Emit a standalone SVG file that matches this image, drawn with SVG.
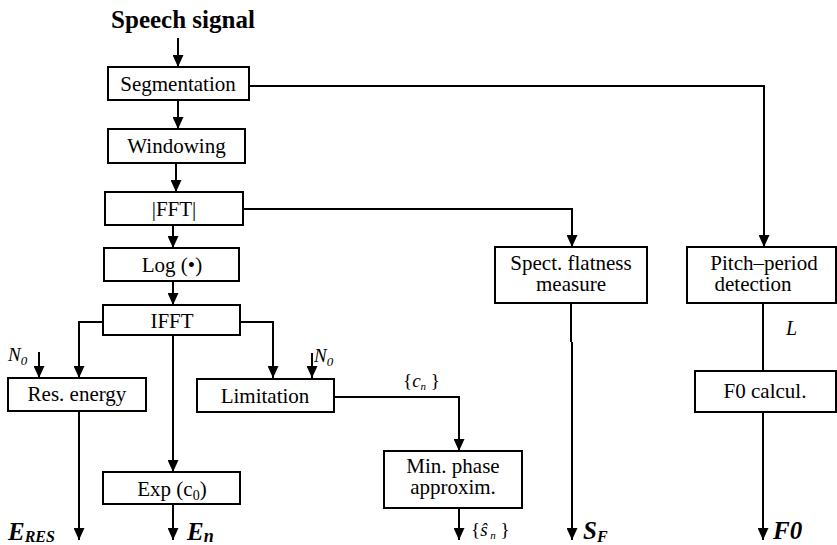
<svg xmlns="http://www.w3.org/2000/svg" width="837" height="545" viewBox="0 0 837 545" font-family="'Liberation Serif', 'Times New Roman', 'DejaVu Serif', serif">
  <style>
    .box { fill: #fff; stroke: #000; stroke-width: 2; }
    .lbl { font-size: 21px; fill: #000; text-anchor: middle; }
    .it { font-style: italic; fill: #000; }
    .out { font-style: italic; font-weight: bold; fill: #000; }
    .wire { fill: none; stroke: #000; stroke-width: 2; }
    .arr { marker-end: url(#head); }
  </style>
  <defs>
    <marker id="head" markerUnits="userSpaceOnUse" markerWidth="12" markerHeight="11" refX="12" refY="5.5" orient="auto" viewBox="0 0 12 11">
      <path d="M0,0 L12,5.5 L0,11 z" fill="#000"/>
    </marker>
  </defs>

  <text x="183" y="28" font-size="25" font-weight="bold" text-anchor="middle">Speech signal</text>

  <g id="connectors">
    <path class="wire arr" d="M178,38 V67"/>
    <path class="wire arr" d="M178,100 V129"/>
    <path class="wire arr" d="M176,163 V192"/>
    <path class="wire arr" d="M173,225 V248"/>
    <path class="wire arr" d="M173,281 V305"/>
    <path class="wire arr" d="M249,86 H764 V247"/>
    <path class="wire arr" d="M243,209 H572 V247"/>
    <path class="wire arr" d="M103,322 H79 V378"/>
    <path class="wire arr" d="M39,352 V378"/>
    <path class="wire arr" d="M173,335 V472"/>
    <path class="wire arr" d="M240,322 H273 V378"/>
    <path class="wire arr" d="M312,353 V378"/>
    <path class="wire arr" d="M334,397 H459 V451"/>
    <path class="wire arr" d="M79,411 V540"/>
    <path class="wire arr" d="M173,504 V540"/>
    <path class="wire arr" d="M459,508 V540"/>
    <path class="wire" stroke-width="1.3" d="M571,303 V342"/>
    <path class="wire arr" d="M572,342 V540"/>
    <path class="wire" d="M763,303 V371"/>
    <path class="wire arr" d="M763,412 V540"/>
  </g>

  <g id="segmentation">
    <rect class="box" x="108" y="67" width="141" height="33"/>
    <text class="lbl" x="178" y="91">Segmentation</text>
  </g>
  <g id="windowing">
    <rect class="box" x="108" y="129" width="137" height="34"/>
    <text class="lbl" x="176.5" y="153">Windowing</text>
  </g>
  <g id="fft">
    <rect class="box" x="105" y="192" width="138" height="33"/>
    <text class="lbl" x="174" y="216">|FFT|</text>
  </g>
  <g id="log">
    <rect class="box" x="104" y="248" width="135" height="33"/>
    <text class="lbl" x="172" y="272">Log (•)</text>
  </g>
  <g id="ifft">
    <rect class="box" x="103" y="305" width="137" height="30"/>
    <text class="lbl" x="172" y="328">IFFT</text>
  </g>
  <g id="res-energy">
    <rect class="box" x="8" y="378" width="138" height="33"/>
    <text class="lbl" x="77" y="401">Res. energy</text>
  </g>
  <g id="limitation">
    <rect class="box" x="197" y="379" width="137" height="33"/>
    <text class="lbl" x="265" y="403">Limitation</text>
  </g>
  <g id="exp">
    <rect class="box" x="103" y="472" width="137" height="32"/>
    <text class="lbl" x="172" y="496">Exp (c<tspan font-size="14" dy="4">0</tspan><tspan dy="-4">)</tspan></text>
  </g>
  <g id="min-phase">
    <rect class="box" x="384" y="451" width="138" height="57"/>
    <text class="lbl" x="453" y="473">Min. phase</text>
    <text class="lbl" x="453" y="494">approxim.</text>
  </g>
  <g id="spectral-flatness">
    <rect class="box" x="495" y="247" width="152" height="56"/>
    <text class="lbl" x="571" y="270">Spect. flatness</text>
    <text class="lbl" x="571" y="291">measure</text>
  </g>
  <g id="pitch-period">
    <rect class="box" x="687" y="247" width="149" height="56"/>
    <text class="lbl" x="764" y="270">Pitch–period</text>
    <text class="lbl" x="753" y="291">detection</text>
  </g>
  <g id="f0-calc">
    <rect class="box" x="695" y="371" width="141" height="41"/>
    <text class="lbl" x="765" y="398">F0 calcul.</text>
  </g>

  <g id="labels">
    <text class="it" x="8" y="361" font-size="19">N<tspan font-size="13" dy="4">0</tspan></text>
    <text class="it" x="314" y="362" font-size="19">N<tspan font-size="13" dy="4">0</tspan></text>
    <text class="it" x="786" y="335" font-size="20">L</text>
    <text x="403" y="387" font-size="19">{<tspan font-style="italic">c</tspan><tspan font-style="italic" font-size="11" dy="3">n</tspan><tspan dy="-3"> }</tspan></text>
    <text x="471" y="536" font-size="19">{<tspan font-style="italic">ŝ</tspan><tspan font-style="italic" font-size="11" dy="3"> n</tspan><tspan dy="-3"> }</tspan></text>
    <text class="out" x="8" y="540" font-size="25">E<tspan font-size="16" dy="2">RES</tspan></text>
    <text class="out" x="187" y="540" font-size="25">E<tspan font-size="18" dy="2">n</tspan></text>
    <text class="out" x="583" y="539" font-size="25">S<tspan font-size="16" dy="3">F</tspan></text>
    <text class="out" x="773" y="539" font-size="25">F0</text>
  </g>
</svg>
